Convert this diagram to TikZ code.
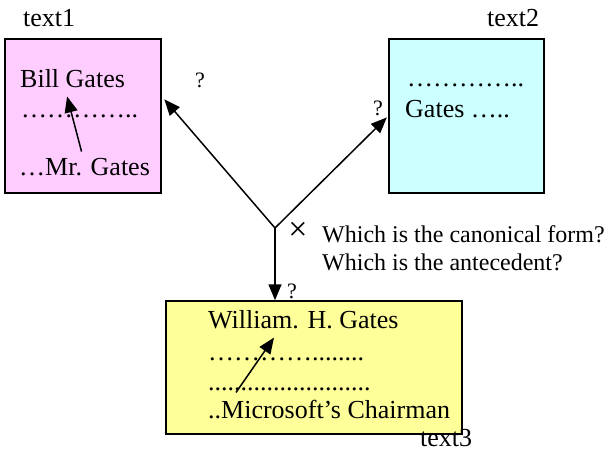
\documentclass[tikz,border=0pt]{standalone}
\usepackage{fontspec}
\setmainfont{Liberation Serif}
\usetikzlibrary{arrows.meta, calc}
\definecolor{pinkbox}{HTML}{FFCCFF}
\definecolor{cyanbox}{HTML}{CCFFFF}
\definecolor{yellowbox}{HTML}{FFFF99}

\begin{document}
\begin{tikzpicture}[
  x=1pt, y=-1pt,
  box/.style={draw, line width=1.5pt, inner sep=0pt},
  txt/.style={anchor=base west, inner sep=0pt, font=\fontsize{26}{30}\selectfont},
  qtxt/.style={anchor=base west, inner sep=0pt, font=\fontsize{22}{26}\selectfont},
  arr/.style={-{Triangle[length=16pt,width=13pt]}, line width=1.5pt}
]
  \useasboundingbox (0,0) rectangle (604,450);
  % boxes
  \node[box, fill=pinkbox, minimum width=156pt, minimum height=154pt]   (box1) at (83,116) {};
  \node[box, fill=cyanbox, minimum width=155pt, minimum height=154pt]   (box2) at (466.5,116) {};
  \node[box, fill=yellowbox, minimum width=296pt, minimum height=133pt] (box3) at (314,367.5) {};
  % labels
  \node[txt] (lab1) at (23,26) {text1};
  \node[txt] (lab2) at (487,26) {text2};
  \node[txt] (lab3) at (420,446) {text3};
  % text1
  \node[txt] (bill)  at (20,87)  {Bill Gates};
  \node[txt] (dots1) at (21,117) {…………..};
  \node[txt] (mr)    at (19,175) {…Mr. Gates};
  % text2
  \node[txt] (dots2) at (407,86)  {…………..};
  \node[txt] (gates) at (405,117) {Gates …..};
  % text3
  \node[txt] (will)  at (208,328) {William. H. Gates};
  \node[txt] (dots3) at (208,360) {…………........};
  \node[txt] (dots4) at (208,390) {.........................};
  \node[txt] (chair) at (208,418) {..Microsoft’s Chairman};
  % questions
  \coordinate (fork) at (275,228);
  \node[qtxt] (q1) at (195,87)  {?};
  \node[qtxt] (q2) at (373,115) {?};
  \node[qtxt] (q3) at (287,298) {?};
  \node[inner sep=0pt, font=\fontsize{34}{38}\selectfont] (cross) at (298,231) {×};
  \node[txt, font=\fontsize{24}{28}\selectfont] (canon) at (322,242) {Which is the canonical form?};
  \node[txt, font=\fontsize{24}{28}\selectfont] (ante)  at (322,270) {Which is the antecedent?};
  % arrows
  \draw[arr, shorten >=4pt] (fork) -- (box1.14);
  \draw[arr, shorten >=2pt] (fork) -- (box2.west);
  \draw[arr] (fork) -- (fork |- box3.north);
  \draw[arr] ([xshift=-3pt,yshift=6pt]mr.north) -- ([xshift=-5.5pt,yshift=-9pt]bill.south);
  \draw[arr] ([xshift=28pt,yshift=7pt]chair.north west) -- ([xshift=66pt,yshift=-9pt]will.south west);
\end{tikzpicture}
\end{document}
